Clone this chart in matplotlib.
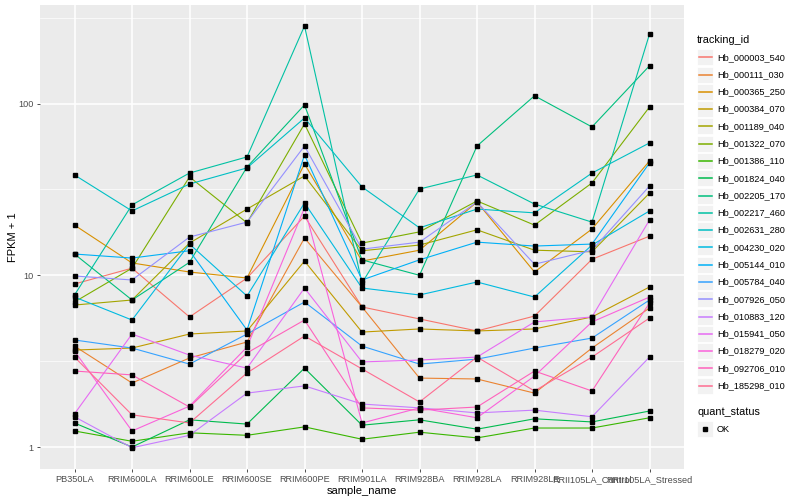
import matplotlib
matplotlib.use("Agg")
import matplotlib.pyplot as plt
from matplotlib.patches import Rectangle
from matplotlib.lines import Line2D

plt.rcParams['font.family'] = ['Liberation Sans', 'DejaVu Sans']

samples = ["PB350LA", "RRIM600LA", "RRIM600LE", "RRIM600SE", "RRIM600PE", "RRIM901LA",
           "RRIM928BA", "RRIM928LA", "RRIM928LE", "RRII105LA_Control", "RRII105LA_Stressed"]

tracking_ids = ["Hb_000003_540", "Hb_000111_030", "Hb_000365_250", "Hb_000384_070",
                "Hb_001189_040", "Hb_001322_070", "Hb_001386_110", "Hb_001824_040",
                "Hb_002205_170", "Hb_002217_460", "Hb_002631_280", "Hb_004230_020",
                "Hb_005144_010", "Hb_005784_040", "Hb_007926_050", "Hb_010883_120",
                "Hb_015941_050", "Hb_018279_020", "Hb_092706_010", "Hb_185298_010"]

colors = ["#F8766D", "#EA8331", "#D89000", "#C09B00", "#A3A500", "#7CAE00", "#39B600",
          "#00BB4E", "#00BF7D", "#00C1A3", "#00BFC4", "#00BAE0", "#00B0F6", "#35A2FF",
          "#9590FF", "#C77CFF", "#E76BF3", "#FA62DB", "#FF62BC", "#FF6C91"]

# FPKM + 1, one list per tracking_id (same order as samples)
hb_000003_540 = [8.90, 11.0, 5.72, 9.64, 22.1, 6.54, 5.57, 4.74, 5.79, 12.4, 16.9]
hb_000111_030 = [3.87, 2.36, 3.30, 4.09, 16.5, 6.54, 2.52, 2.49, 2.06, 3.77, 6.45]
hb_000365_250 = [19.6, 11.8, 10.45, 9.64, 44.5, 12.1, 14.0, 26.7, 10.45, 18.6, 46.3]
hb_000384_070 = [3.67, 3.77, 4.55, 4.74, 12.1, 4.67, 4.87, 4.74, 4.87, 5.72, 8.55]
hb_001189_040 = [6.71, 7.18, 15.4, 24.3, 37.9, 13.9, 15.0, 18.4, 14.0, 13.7, 30.1]
hb_001322_070 = [6.99, 11.0, 37.4, 20.2, 76.1, 15.4, 17.9, 27.1, 19.6, 34.5, 95.5]
hb_001386_110 = [1.24, 1.08, 1.21, 1.17, 1.31, 1.11, 1.22, 1.13, 1.29, 1.29, 1.48]
hb_001824_040 = [1.38, 1.00, 1.44, 1.36, 2.88, 1.34, 1.44, 1.27, 1.46, 1.40, 1.62]
hb_002205_170 = [13.3, 7.18, 11.9, 42.7, 98.2, 12.3, 10.0, 56.6, 111, 73.1, 166]
hb_002217_460 = [7.68, 25.7, 39.4, 48.9, 283, 9.02, 31.8, 38.4, 26.0, 20.4, 254]
hb_002631_280 = [38.4, 23.7, 34.0, 42.2, 82.4, 32.7, 18.9, 24.3, 23.1, 39.4, 59.0]
hb_004230_020 = [7.47, 5.49, 15.2, 7.57, 26.4, 8.43, 7.68, 9.14, 7.47, 15.0, 23.7]
hb_005144_010 = [13.3, 12.6, 13.9, 4.80, 50.2, 9.39, 12.3, 15.6, 14.8, 15.2, 45.1]
hb_005784_040 = [4.20, 3.77, 3.04, 4.55, 6.99, 3.87, 3.04, 3.25, 3.77, 4.31, 7.18]
hb_007926_050 = [9.91, 9.39, 16.7, 20.4, 56.6, 14.2, 15.6, 26.7, 11.6, 14.0, 33.1]
hb_010883_120 = [1.50, 0.99, 1.17, 2.06, 2.27, 1.78, 1.69, 1.58, 1.64, 1.50, 3.34]
hb_015941_050 = [1.56, 4.55, 3.43, 2.88, 8.43, 3.13, 3.21, 3.34, 5.35, 5.72, 21.0]
hb_018279_020 = [3.62, 1.24, 1.73, 3.82, 24.7, 1.38, 1.69, 1.48, 2.59, 5.35, 7.47]
hb_092706_010 = [2.77, 2.63, 1.71, 3.53, 5.49, 1.69, 1.64, 1.71, 2.77, 2.12, 6.90]
hb_185298_010 = [3.34, 1.54, 1.38, 2.70, 4.43, 2.85, 1.83, 3.34, 2.12, 3.34, 5.64]

series = [hb_000003_540, hb_000111_030, hb_000365_250, hb_000384_070, hb_001189_040,
          hb_001322_070, hb_001386_110, hb_001824_040, hb_002205_170, hb_002217_460,
          hb_002631_280, hb_004230_020, hb_005144_010, hb_005784_040, hb_007926_050,
          hb_010883_120, hb_015941_050, hb_018279_020, hb_092706_010, hb_185298_010]

W, H = 800, 500
fig = plt.figure(figsize=(8, 5), dpi=100)
ax = fig.add_axes([40 / W, 1 - 469 / H, (684 - 40) / W, (469 - 5) / H])
ax.set_facecolor("#EBEBEB")

x = list(range(len(samples)))
for vals, c in zip(series, colors):
    ax.plot(x, vals, color=c, lw=0.8, zorder=3)
for vals in series:
    ax.plot(x, vals, ls="none", marker="s", ms=2.8, color="black", zorder=4)

ax.set_yscale("log")
ax.set_ylim(10 ** -0.128, 10 ** 2.574)
ax.set_xlim(-0.6, len(samples) - 0.4)
ax.set_yticks([1, 10, 100])
ax.set_yticklabels(["1", "10", "100"])
ax.set_yticks([10 ** 0.5, 10 ** 1.5, 10 ** 2.5], minor=True)
ax.yaxis.set_minor_formatter(plt.NullFormatter())
ax.set_xticks(x)
ax.set_xticklabels(samples)

ax.grid(True, which="major", color="white", lw=1.1, zorder=0)
ax.grid(True, which="minor", axis="y", color="white", lw=0.5, zorder=0)
ax.set_axisbelow(True)
for s in ax.spines.values():
    s.set_visible(False)
ax.tick_params(axis="both", which="major", length=2.5, width=0.6, color="#333333",
               labelsize=6.6, labelcolor="#4D4D4D", pad=2)
ax.tick_params(axis="y", which="minor", length=0)

ax.set_xlabel("sample_name", fontsize=8)
ax.set_ylabel("FPKM + 1", fontsize=8)
ax.xaxis.set_label_coords(0.5, -0.036)
ax.yaxis.set_label_coords(-0.034, 0.5)

# legend: tracking_id
fig.text(697 / W, 1 - 40 / H, "tracking_id", fontsize=7.8, va="center", ha="left")
step = 17.28
for i, (tid, c) in enumerate(zip(tracking_ids, colors)):
    yc = 57.3 + i * step
    fig.patches.append(Rectangle((697 / W, 1 - (yc + 8) / H), 16 / W, 16 / H,
                                 transform=fig.transFigure, facecolor="#F2F2F2",
                                 edgecolor="white", lw=0.6, zorder=1))
    fig.lines.append(Line2D([698.5 / W, 711.5 / W], [1 - yc / H, 1 - yc / H],
                            transform=fig.transFigure, color=c, lw=1.1, zorder=5))
    fig.text(717 / W, 1 - yc / H, tid, fontsize=6.6, va="center", ha="left")

# legend: quant_status
fig.text(697 / W, 1 - 411.7 / H, "quant_status", fontsize=7.8, va="center", ha="left")
yc = 429.3
fig.patches.append(Rectangle((697 / W, 1 - (yc + 8) / H), 16 / W, 16 / H,
                             transform=fig.transFigure, facecolor="#F2F2F2",
                             edgecolor="white", lw=0.6, zorder=1))
fig.lines.append(Line2D([705 / W], [1 - yc / H], transform=fig.transFigure,
                        ls="none", marker="s", ms=2.8, color="black", zorder=5))
fig.text(717 / W, 1 - yc / H, "OK", fontsize=6.6, va="center", ha="left")

fig.savefig("out.png", dpi=100)
